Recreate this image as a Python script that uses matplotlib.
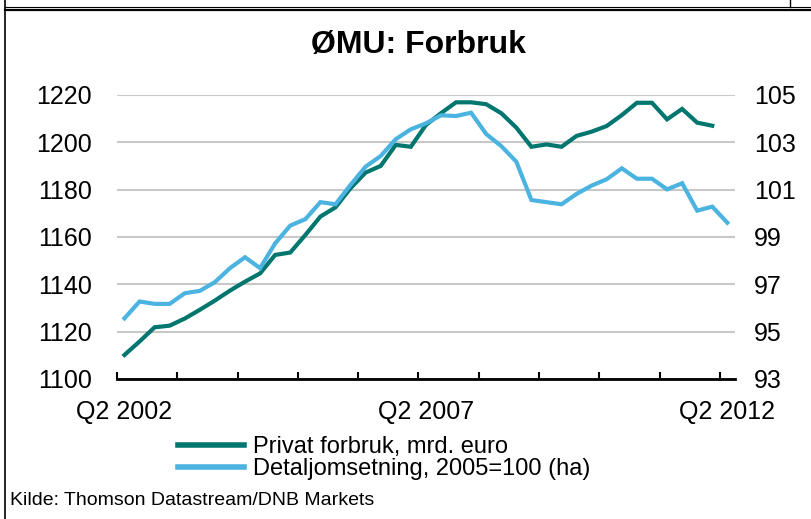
import numpy as np
import matplotlib.pyplot as plt
from matplotlib.lines import Line2D

plt.rcParams['font.family'] = ['Liberation Sans', 'DejaVu Sans']

# Quarterly data, Q2 2002 .. Q2 2012
quarters = ['Q2 2002'] + [''] * 19 + ['Q2 2007'] + [''] * 19 + ['Q2 2012']

# Privat forbruk, mrd. euro (left axis), ends Q1 2012
privat = [1110.1, 1115.8, 1121.8, 1122.5, 1125.5, 1129.2, 1133.1, 1137.3,
          1141.1, 1144.6, 1152.4, 1153.4, 1160.8, 1168.6, 1172.5, 1180.6,
          1187.2, 1190.0, 1198.9, 1198.1, 1207.3, 1212.3, 1216.9, 1216.9,
          1216.1, 1212.3, 1206.2, 1198.1, 1199.1, 1198.1, 1202.7, 1204.5,
          1206.9, 1211.5, 1216.7, 1216.7, 1209.7, 1214.1, 1208.3, 1207.0]

# Detaljomsetning, 2005=100 (right axis)
detalj = [95.56, 96.27, 96.17, 96.17, 96.62, 96.72, 97.09, 97.68,
          98.14, 97.68, 98.73, 99.48, 99.75, 100.47, 100.38, 101.20,
          101.97, 102.42, 103.13, 103.55, 103.80, 104.14, 104.11, 104.25,
          103.35, 102.84, 102.18, 100.56, 100.47, 100.38, 100.82, 101.17,
          101.44, 101.90, 101.46, 101.46, 101.01, 101.27, 100.11, 100.28,
          99.60]

left_ticks = [1100, 1120, 1140, 1160, 1180, 1200, 1220]
right_ticks = [93, 95, 97, 99, 101, 103, 105]

dark = '#00766F'
light = '#4BB3E0'

fig = plt.figure(figsize=(8.12, 5.19), dpi=100)
ax = fig.add_axes([0.144, 0.27, 0.761, 0.547])
ax2 = ax.twinx()

x = np.arange(len(quarters))
ax.plot(x[:len(privat)], privat, color=dark, lw=3, solid_joinstyle='miter')
ax2.plot(x[:len(detalj)], detalj, color=light, lw=3, solid_joinstyle='miter')

ax.set_xlim(-0.5, len(quarters) - 0.5)
ax.set_ylim(1100, 1220)
ax2.set_ylim(93, 105)
ax.set_yticks(left_ticks)
ax2.set_yticks(right_ticks)
ax.set_axisbelow(True)
ax.grid(axis='y', color='#c8c8c8', lw=1.5)

# tick marks between categories every 4 quarters
ax.set_xticks(np.arange(-0.5, len(quarters) - 1, 4))
ax.set_xticklabels([])
ax.tick_params(axis='x', which='major', direction='in', length=5, width=1.5)
lab_idx = [i for i, q in enumerate(quarters) if q]
ax.set_xticks(lab_idx, minor=True)
ax.set_xticklabels([quarters[i] for i in lab_idx], minor=True)
ax.tick_params(axis='x', which='minor', length=0, pad=15, labelsize=18)

ax.tick_params(axis='y', length=0, pad=18, labelsize=18)
ax2.tick_params(axis='y', length=0, pad=14, labelsize=18)

for a in (ax, ax2):
    for s in ('top', 'left', 'right'):
        a.spines[s].set_visible(False)
ax2.spines['bottom'].set_visible(False)
ax.spines['bottom'].set_linewidth(2)

fig.text(0.515, 0.913, 'ØMU: Forbruk', ha='center', va='center',
         fontsize=23, fontweight='bold')

handles = [Line2D([], [], color=dark, lw=4), Line2D([], [], color=light, lw=4)]
fig.legend(handles, ['Privat forbruk, mrd. euro', 'Detaljomsetning, 2005=100 (ha)'],
           loc='upper left', bbox_to_anchor=(0.219, 0.16), frameon=False,
           fontsize=17, handlelength=2.8, handletextpad=0.4, labelspacing=0.02,
           borderpad=0, borderaxespad=0)

fig.text(0.012, 0.035, 'Kilde: Thomson Datastream/DNB Markets', fontsize=14,
         ha='left', va='center')

# frame lines from the slide
fig.add_artist(Line2D([0.006, 0.006], [0, 1], color='black', lw=1.2))
fig.add_artist(Line2D([0.006, 1], [0.986, 0.986], color='black', lw=0.8))
fig.add_artist(Line2D([0.006, 1], [0.980, 0.980], color='black', lw=1.6))
fig.add_artist(Line2D([0.973, 0.973], [0.986, 1], color='black', lw=1.0))

fig.savefig('out.png', dpi=100)
